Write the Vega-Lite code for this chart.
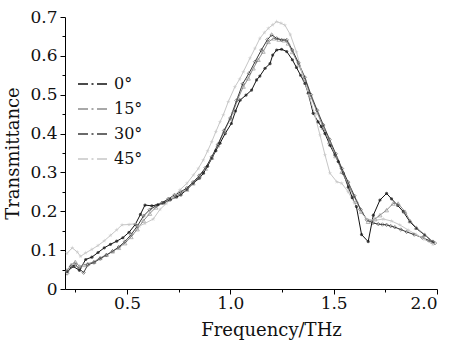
{
  "$schema": "https://vega.github.io/schema/vega-lite/v6.json",
  "width": 372,
  "height": 272,
  "autosize": "none",
  "padding": {"left": 65, "top": 17, "right": 15, "bottom": 58},
  "background": "white",
  "config": {
    "view": {"stroke": null},
    "font": "DejaVu Serif",
    "axis": {"domainColor": "#000", "tickColor": "#000", "labelColor": "#111", "titleColor": "#111", "grid": false, "labelFont": "DejaVu Serif", "titleFont": "DejaVu Serif", "labelFontSize": 17, "titleFontSize": 18, "titleFontWeight": "normal", "tickSize": 5, "domainWidth": 1, "tickWidth": 1},
    "legend": {"labelFont": "DejaVu Serif", "labelFontSize": 16, "labelColor": "#111"}
  },
  "datasets": {
    "d": [
      {"f":0.21,"t":0.045,"a":"0°"},{"f":0.24,"t":0.058,"a":"0°"},{"f":0.27,"t":0.048,"a":"0°"},{"f":0.30,"t":0.076,"a":"0°"},{"f":0.33,"t":0.082,"a":"0°"},{"f":0.36,"t":0.094,"a":"0°"},{"f":0.39,"t":0.106,"a":"0°"},{"f":0.42,"t":0.115,"a":"0°"},{"f":0.45,"t":0.123,"a":"0°"},{"f":0.48,"t":0.132,"a":"0°"},{"f":0.51,"t":0.146,"a":"0°"},{"f":0.54,"t":0.166,"a":"0°"},{"f":0.565,"t":0.192,"a":"0°"},{"f":0.587,"t":0.216,"a":"0°"},{"f":0.62,"t":0.214,"a":"0°"},{"f":0.65,"t":0.217,"a":"0°"},{"f":0.68,"t":0.222,"a":"0°"},{"f":0.71,"t":0.230,"a":"0°"},{"f":0.74,"t":0.237,"a":"0°"},{"f":0.76,"t":0.242,"a":"0°"},{"f":0.79,"t":0.256,"a":"0°"},{"f":0.82,"t":0.272,"a":"0°"},{"f":0.85,"t":0.285,"a":"0°"},{"f":0.87,"t":0.298,"a":"0°"},{"f":0.89,"t":0.316,"a":"0°"},{"f":0.91,"t":0.336,"a":"0°"},{"f":0.93,"t":0.356,"a":"0°"},{"f":0.95,"t":0.375,"a":"0°"},{"f":0.975,"t":0.400,"a":"0°"},{"f":1.005,"t":0.426,"a":"0°"},{"f":1.025,"t":0.458,"a":"0°"},{"f":1.047,"t":0.486,"a":"0°"},{"f":1.076,"t":0.499,"a":"0°"},{"f":1.103,"t":0.512,"a":"0°"},{"f":1.127,"t":0.538,"a":"0°"},{"f":1.143,"t":0.548,"a":"0°"},{"f":1.168,"t":0.568,"a":"0°"},{"f":1.192,"t":0.580,"a":"0°"},{"f":1.205,"t":0.602,"a":"0°"},{"f":1.224,"t":0.615,"a":"0°"},{"f":1.248,"t":0.617,"a":"0°"},{"f":1.273,"t":0.611,"a":"0°"},{"f":1.30,"t":0.590,"a":"0°"},{"f":1.32,"t":0.570,"a":"0°"},{"f":1.34,"t":0.550,"a":"0°"},{"f":1.361,"t":0.529,"a":"0°"},{"f":1.377,"t":0.504,"a":"0°"},{"f":1.401,"t":0.452,"a":"0°"},{"f":1.425,"t":0.430,"a":"0°"},{"f":1.44,"t":0.418,"a":"0°"},{"f":1.458,"t":0.400,"a":"0°"},{"f":1.482,"t":0.370,"a":"0°"},{"f":1.506,"t":0.345,"a":"0°"},{"f":1.522,"t":0.328,"a":"0°"},{"f":1.546,"t":0.298,"a":"0°"},{"f":1.571,"t":0.262,"a":"0°"},{"f":1.59,"t":0.235,"a":"0°"},{"f":1.61,"t":0.212,"a":"0°"},{"f":1.635,"t":0.140,"a":"0°"},{"f":1.667,"t":0.122,"a":"0°"},{"f":1.692,"t":0.190,"a":"0°"},{"f":1.724,"t":0.229,"a":"0°"},{"f":1.756,"t":0.246,"a":"0°"},{"f":1.78,"t":0.232,"a":"0°"},{"f":1.81,"t":0.215,"a":"0°"},{"f":1.837,"t":0.199,"a":"0°"},{"f":1.869,"t":0.173,"a":"0°"},{"f":1.90,"t":0.156,"a":"0°"},{"f":1.94,"t":0.139,"a":"0°"},{"f":1.98,"t":0.122,"a":"0°"},

      {"f":0.21,"t":0.048,"a":"15°"},{"f":0.23,"t":0.062,"a":"15°"},{"f":0.25,"t":0.070,"a":"15°"},{"f":0.27,"t":0.058,"a":"15°"},{"f":0.29,"t":0.062,"a":"15°"},{"f":0.31,"t":0.065,"a":"15°"},{"f":0.34,"t":0.070,"a":"15°"},{"f":0.37,"t":0.080,"a":"15°"},{"f":0.40,"t":0.088,"a":"15°"},{"f":0.43,"t":0.097,"a":"15°"},{"f":0.46,"t":0.106,"a":"15°"},{"f":0.49,"t":0.118,"a":"15°"},{"f":0.52,"t":0.134,"a":"15°"},{"f":0.55,"t":0.154,"a":"15°"},{"f":0.58,"t":0.176,"a":"15°"},{"f":0.61,"t":0.194,"a":"15°"},{"f":0.64,"t":0.210,"a":"15°"},{"f":0.67,"t":0.222,"a":"15°"},{"f":0.70,"t":0.230,"a":"15°"},{"f":0.73,"t":0.238,"a":"15°"},{"f":0.76,"t":0.246,"a":"15°"},{"f":0.79,"t":0.256,"a":"15°"},{"f":0.82,"t":0.272,"a":"15°"},{"f":0.85,"t":0.290,"a":"15°"},{"f":0.88,"t":0.310,"a":"15°"},{"f":0.91,"t":0.338,"a":"15°"},{"f":0.94,"t":0.370,"a":"15°"},{"f":0.97,"t":0.405,"a":"15°"},{"f":1.00,"t":0.438,"a":"15°"},{"f":1.014,"t":0.456,"a":"15°"},{"f":1.038,"t":0.491,"a":"15°"},{"f":1.063,"t":0.521,"a":"15°"},{"f":1.087,"t":0.542,"a":"15°"},{"f":1.111,"t":0.568,"a":"15°"},{"f":1.135,"t":0.590,"a":"15°"},{"f":1.159,"t":0.611,"a":"15°"},{"f":1.184,"t":0.636,"a":"15°"},{"f":1.21,"t":0.645,"a":"15°"},{"f":1.235,"t":0.642,"a":"15°"},{"f":1.26,"t":0.640,"a":"15°"},{"f":1.28,"t":0.632,"a":"15°"},{"f":1.30,"t":0.610,"a":"15°"},{"f":1.33,"t":0.578,"a":"15°"},{"f":1.36,"t":0.540,"a":"15°"},{"f":1.39,"t":0.495,"a":"15°"},{"f":1.42,"t":0.455,"a":"15°"},{"f":1.45,"t":0.415,"a":"15°"},{"f":1.48,"t":0.378,"a":"15°"},{"f":1.51,"t":0.342,"a":"15°"},{"f":1.54,"t":0.302,"a":"15°"},{"f":1.579,"t":0.259,"a":"15°"},{"f":1.611,"t":0.225,"a":"15°"},{"f":1.635,"t":0.199,"a":"15°"},{"f":1.667,"t":0.173,"a":"15°"},{"f":1.70,"t":0.180,"a":"15°"},{"f":1.724,"t":0.190,"a":"15°"},{"f":1.756,"t":0.203,"a":"15°"},{"f":1.788,"t":0.220,"a":"15°"},{"f":1.812,"t":0.220,"a":"15°"},{"f":1.845,"t":0.199,"a":"15°"},{"f":1.87,"t":0.175,"a":"15°"},{"f":1.90,"t":0.158,"a":"15°"},{"f":1.94,"t":0.140,"a":"15°"},{"f":1.98,"t":0.122,"a":"15°"},

      {"f":0.21,"t":0.040,"a":"30°"},{"f":0.23,"t":0.058,"a":"30°"},{"f":0.25,"t":0.062,"a":"30°"},{"f":0.27,"t":0.052,"a":"30°"},{"f":0.29,"t":0.042,"a":"30°"},{"f":0.31,"t":0.062,"a":"30°"},{"f":0.34,"t":0.068,"a":"30°"},{"f":0.37,"t":0.078,"a":"30°"},{"f":0.40,"t":0.087,"a":"30°"},{"f":0.43,"t":0.097,"a":"30°"},{"f":0.46,"t":0.108,"a":"30°"},{"f":0.49,"t":0.122,"a":"30°"},{"f":0.52,"t":0.140,"a":"30°"},{"f":0.55,"t":0.162,"a":"30°"},{"f":0.58,"t":0.188,"a":"30°"},{"f":0.61,"t":0.204,"a":"30°"},{"f":0.64,"t":0.214,"a":"30°"},{"f":0.67,"t":0.222,"a":"30°"},{"f":0.70,"t":0.232,"a":"30°"},{"f":0.73,"t":0.242,"a":"30°"},{"f":0.76,"t":0.250,"a":"30°"},{"f":0.79,"t":0.260,"a":"30°"},{"f":0.82,"t":0.275,"a":"30°"},{"f":0.85,"t":0.292,"a":"30°"},{"f":0.88,"t":0.312,"a":"30°"},{"f":0.91,"t":0.340,"a":"30°"},{"f":0.94,"t":0.372,"a":"30°"},{"f":0.97,"t":0.408,"a":"30°"},{"f":1.00,"t":0.440,"a":"30°"},{"f":1.03,"t":0.485,"a":"30°"},{"f":1.06,"t":0.528,"a":"30°"},{"f":1.09,"t":0.555,"a":"30°"},{"f":1.12,"t":0.585,"a":"30°"},{"f":1.15,"t":0.615,"a":"30°"},{"f":1.18,"t":0.642,"a":"30°"},{"f":1.20,"t":0.654,"a":"30°"},{"f":1.224,"t":0.645,"a":"30°"},{"f":1.248,"t":0.641,"a":"30°"},{"f":1.273,"t":0.641,"a":"30°"},{"f":1.30,"t":0.615,"a":"30°"},{"f":1.33,"t":0.582,"a":"30°"},{"f":1.36,"t":0.545,"a":"30°"},{"f":1.39,"t":0.500,"a":"30°"},{"f":1.42,"t":0.460,"a":"30°"},{"f":1.45,"t":0.422,"a":"30°"},{"f":1.48,"t":0.385,"a":"30°"},{"f":1.51,"t":0.348,"a":"30°"},{"f":1.54,"t":0.310,"a":"30°"},{"f":1.57,"t":0.275,"a":"30°"},{"f":1.60,"t":0.240,"a":"30°"},{"f":1.63,"t":0.205,"a":"30°"},{"f":1.66,"t":0.178,"a":"30°"},{"f":1.69,"t":0.170,"a":"30°"},{"f":1.716,"t":0.167,"a":"30°"},{"f":1.736,"t":0.166,"a":"30°"},{"f":1.756,"t":0.165,"a":"30°"},{"f":1.776,"t":0.162,"a":"30°"},{"f":1.796,"t":0.159,"a":"30°"},{"f":1.825,"t":0.153,"a":"30°"},{"f":1.853,"t":0.147,"a":"30°"},{"f":1.89,"t":0.140,"a":"30°"},{"f":1.93,"t":0.132,"a":"30°"},{"f":1.96,"t":0.125,"a":"30°"},{"f":1.99,"t":0.118,"a":"30°"},

      {"f":0.21,"t":0.092,"a":"45°"},{"f":0.235,"t":0.106,"a":"45°"},{"f":0.26,"t":0.095,"a":"45°"},{"f":0.275,"t":0.084,"a":"45°"},{"f":0.30,"t":0.093,"a":"45°"},{"f":0.33,"t":0.102,"a":"45°"},{"f":0.36,"t":0.112,"a":"45°"},{"f":0.39,"t":0.124,"a":"45°"},{"f":0.42,"t":0.138,"a":"45°"},{"f":0.45,"t":0.152,"a":"45°"},{"f":0.476,"t":0.165,"a":"45°"},{"f":0.51,"t":0.166,"a":"45°"},{"f":0.54,"t":0.168,"a":"45°"},{"f":0.56,"t":0.162,"a":"45°"},{"f":0.587,"t":0.169,"a":"45°"},{"f":0.627,"t":0.180,"a":"45°"},{"f":0.66,"t":0.205,"a":"45°"},{"f":0.69,"t":0.220,"a":"45°"},{"f":0.72,"t":0.235,"a":"45°"},{"f":0.756,"t":0.255,"a":"45°"},{"f":0.79,"t":0.272,"a":"45°"},{"f":0.821,"t":0.293,"a":"45°"},{"f":0.845,"t":0.310,"a":"45°"},{"f":0.869,"t":0.332,"a":"45°"},{"f":0.89,"t":0.355,"a":"45°"},{"f":0.91,"t":0.379,"a":"45°"},{"f":0.93,"t":0.405,"a":"45°"},{"f":0.95,"t":0.430,"a":"45°"},{"f":0.966,"t":0.448,"a":"45°"},{"f":0.99,"t":0.482,"a":"45°"},{"f":1.022,"t":0.520,"a":"45°"},{"f":1.045,"t":0.540,"a":"45°"},{"f":1.063,"t":0.559,"a":"45°"},{"f":1.095,"t":0.594,"a":"45°"},{"f":1.119,"t":0.619,"a":"45°"},{"f":1.143,"t":0.645,"a":"45°"},{"f":1.165,"t":0.660,"a":"45°"},{"f":1.184,"t":0.671,"a":"45°"},{"f":1.205,"t":0.680,"a":"45°"},{"f":1.224,"t":0.688,"a":"45°"},{"f":1.245,"t":0.684,"a":"45°"},{"f":1.264,"t":0.679,"a":"45°"},{"f":1.29,"t":0.655,"a":"45°"},{"f":1.32,"t":0.610,"a":"45°"},{"f":1.35,"t":0.550,"a":"45°"},{"f":1.38,"t":0.500,"a":"45°"},{"f":1.41,"t":0.445,"a":"45°"},{"f":1.434,"t":0.396,"a":"45°"},{"f":1.458,"t":0.345,"a":"45°"},{"f":1.482,"t":0.298,"a":"45°"},{"f":1.515,"t":0.276,"a":"45°"},{"f":1.539,"t":0.272,"a":"45°"},{"f":1.57,"t":0.250,"a":"45°"},{"f":1.60,"t":0.222,"a":"45°"},{"f":1.63,"t":0.198,"a":"45°"},{"f":1.66,"t":0.180,"a":"45°"},{"f":1.70,"t":0.177,"a":"45°"},{"f":1.74,"t":0.180,"a":"45°"},{"f":1.78,"t":0.175,"a":"45°"},{"f":1.82,"t":0.165,"a":"45°"},{"f":1.86,"t":0.152,"a":"45°"},{"f":1.90,"t":0.140,"a":"45°"},{"f":1.94,"t":0.128,"a":"45°"},{"f":1.98,"t":0.115,"a":"45°"}
    ]
  },
  "data": {"name": "d"},
  "layer": [
    {
      "mark": {"type": "line", "strokeWidth": 1, "clip": true},
      "encoding": {
        "x": {"field": "f", "type": "quantitative", "scale": {"domain": [0.2, 2.0], "nice": false, "zero": false},
              "axis": {"values": [0.5, 1.0, 1.5, 2.0], "format": ".1f", "labelPadding": 1, "title": "Frequency/THz", "titlePadding": 10, "titleX": 206, "titleAlign": "center", "orient": "bottom"}},
        "y": {"field": "t", "type": "quantitative", "scale": {"domain": [0, 0.7], "nice": false},
              "axis": {"values": [0, 0.1, 0.2, 0.3, 0.4, 0.5, 0.6, 0.7], "format": ".1~f", "labelPadding": 3, "title": "Transmittance", "titlePadding": 7, "orient": "left"}},
        "color": {"field": "a", "type": "nominal", "scale": {"domain": ["0°", "15°", "30°", "45°"], "range": ["#111111", "#8c8c8c", "#3a3a3a", "#c6c6c6"]},
                  "legend": {"title": null, "orient": "none", "legendX": 12, "legendY": 51, "symbolType": "stroke", "symbolSize": 900, "symbolStrokeWidth": 1.3, "symbolDash": [10, 3.5, 2, 3.5, 10], "rowPadding": 1, "labelOffset": 5}}
      }
    },
    {
      "transform": [{"filter": "datum.a == '0°'"}],
      "mark": {"type": "point", "shape": "circle", "filled": true, "color": "#111111", "size": 10, "clip": true},
      "encoding": {
        "x": {"field": "f", "type": "quantitative", "axis": {"values": [0.25, 0.75, 1.25, 1.75], "labels": false, "domain": false, "tickSize": 3, "title": null, "orient": "bottom"}},
        "y": {"field": "t", "type": "quantitative", "axis": {"values": [0.05, 0.15, 0.25, 0.35, 0.45, 0.55, 0.65], "labels": false, "domain": false, "tickSize": 3, "title": null, "orient": "left"}}
      }
    },
    {
      "transform": [{"filter": "datum.a == '15°'"}],
      "mark": {"type": "point", "shape": "triangle-up", "filled": false, "color": "#8c8c8c", "strokeWidth": 0.9, "size": 16, "clip": true},
      "encoding": {
        "x": {"field": "f", "type": "quantitative", "axis": null},
        "y": {"field": "t", "type": "quantitative", "axis": null}
      }
    },
    {
      "transform": [{"filter": "datum.a == '30°'"}],
      "mark": {"type": "point", "shape": "diamond", "filled": false, "color": "#3a3a3a", "strokeWidth": 0.8, "size": 12, "clip": true},
      "encoding": {
        "x": {"field": "f", "type": "quantitative", "axis": null},
        "y": {"field": "t", "type": "quantitative", "axis": null}
      }
    },
    {
      "transform": [{"filter": "datum.a == '45°'"}],
      "mark": {"type": "point", "shape": "M0,-1L0.22,-0.3L0.95,-0.3L0.36,0.12L0.59,0.81L0,0.38L-0.59,0.81L-0.36,0.12L-0.95,-0.3L-0.22,-0.3Z", "filled": true, "color": "#c6c6c6", "size": 22, "clip": true},
      "encoding": {
        "x": {"field": "f", "type": "quantitative", "axis": null},
        "y": {"field": "t", "type": "quantitative", "axis": null}
      }
    }
  ],
  "resolve": {"axis": {"x": "independent", "y": "independent"}}
}
